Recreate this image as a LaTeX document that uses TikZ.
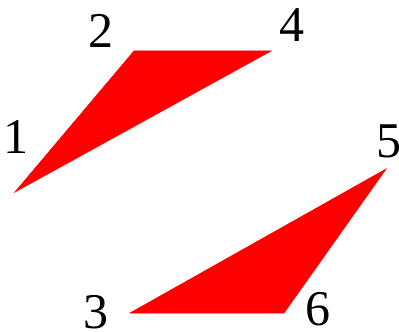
\documentclass[tikz,border=0pt]{standalone}
\usepackage{fontspec}
\setmainfont{Liberation Serif}
\usepackage{tikz}
\usetikzlibrary{positioning,calc}

\begin{document}
\begin{tikzpicture}[
    x=0.5pt, y=-0.5pt,
    label/.style={inner sep=0pt, font=\fontsize{25}{30}\selectfont},
    piece/.style={fill=red, draw=red, line width=0.3pt}
]
\useasboundingbox (0,0) rectangle (399,331);

% Corners
\coordinate (p1) at (15,192);
\coordinate (p2) at (134,51);
\coordinate (p4) at (271,51);
\coordinate (p3) at (130,313);
\coordinate (p5) at (386,169);
\coordinate (p6) at (284,313);

% Triangles
\fill[piece] (p1) -- (p2) -- (p4) -- cycle;
\fill[piece] (p3) -- (p5) -- (p6) -- cycle;

% Labels
\node[label] (n1) at (16,137) {1};
\node[label] (n2) at (101,31) {2};
\node[label] (n4) at (292,25) {4};
\node[label] (n5) at (389,141) {5};
\node[label] (n3) at (96,312) {3};
\node[label] (n6) at (318,309) {6};

\end{tikzpicture}
\end{document}
